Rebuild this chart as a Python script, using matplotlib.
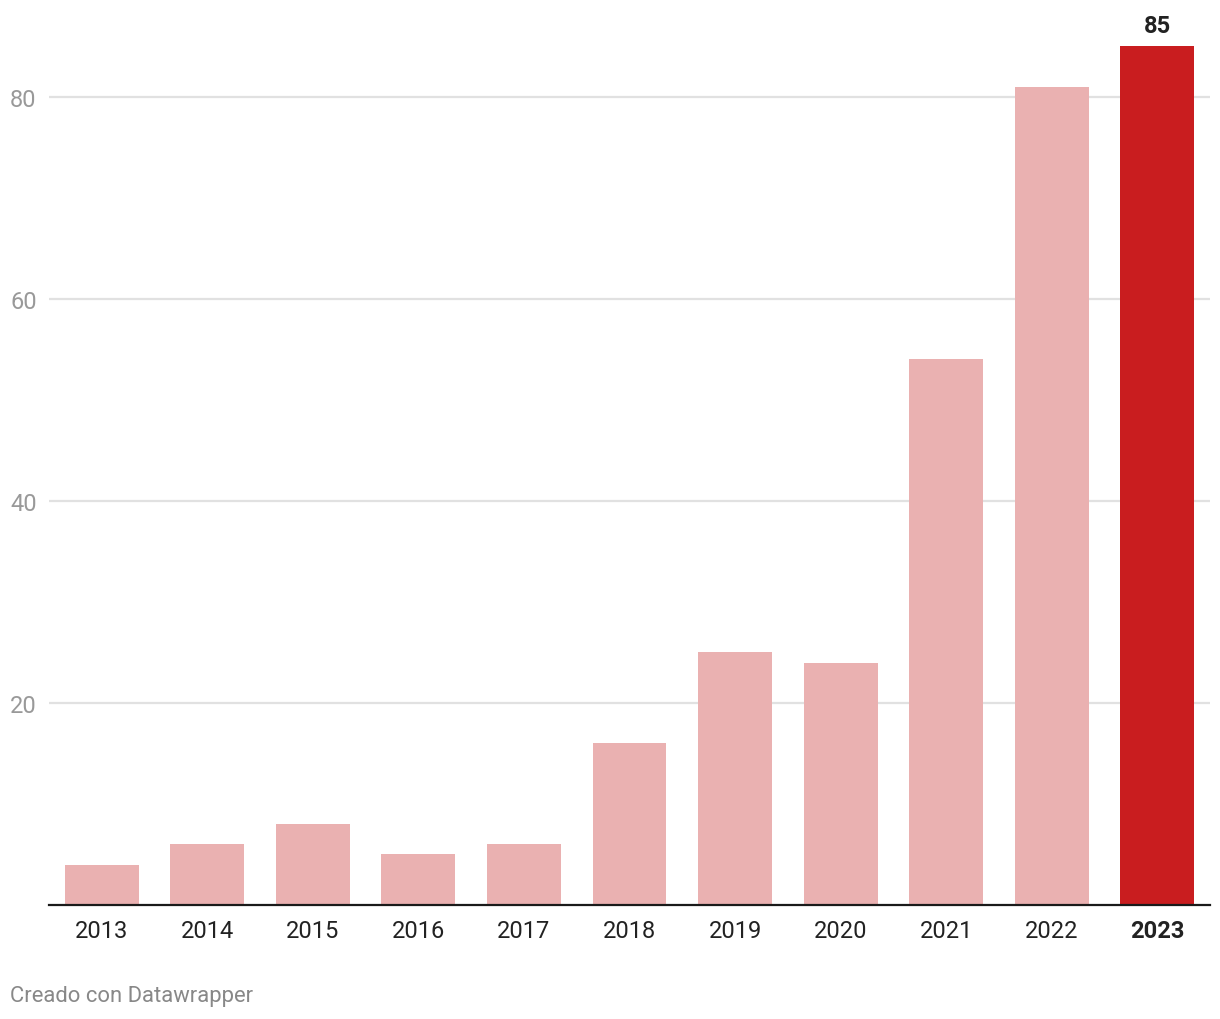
import matplotlib.pyplot as plt

years = ["2013", "2014", "2015", "2016", "2017", "2018", "2019", "2020", "2021", "2022", "2023"]
values = [4, 6, 8, 5, 6, 16, 25, 24, 54, 81, 85]
y_ticks = [20, 40, 60, 80]

light = "#eab1b1"
dark = "#c91d1f"

plt.rcParams["font.family"] = ["Roboto", "DejaVu Sans"]

W, H = 1220, 1020
fig = plt.figure(figsize=(W / 100, H / 100), dpi=100)
left, right, bottom, top = 49, 1210, 906, 17
ax = fig.add_axes([left / W, 1 - bottom / H, (right - left) / W, (bottom - top) / H])

x = list(range(len(years)))
colors = [light] * (len(years) - 1) + [dark]
ax.bar(x, values, width=0.7, color=colors, zorder=2)

ax.set_xlim(-0.5, len(years) - 0.5)
ax.set_ylim(0, 88)

ax.set_yticks(y_ticks)
ax.yaxis.grid(True, color="#e1e1e1", linewidth=1.6, zorder=0)
ax.tick_params(axis="y", length=0, pad=28, labelsize=17, labelcolor="#999999")
for lab in ax.get_yticklabels():
    lab.set_horizontalalignment("left")

ax.set_xticks(x)
ax.set_xticklabels(years)
ax.tick_params(axis="x", length=0, pad=10, labelsize=17, labelcolor="#222222")
ax.get_xticklabels()[-1].set_fontweight("bold")

for side in ["top", "right", "left"]:
    ax.spines[side].set_visible(False)
ax.spines["bottom"].set_color("#1a1a1a")
ax.spines["bottom"].set_linewidth(1.6)
ax.spines["bottom"].set_zorder(3)
ax.set_axisbelow(True)

ax.annotate(str(values[-1]), xy=(x[-1], values[-1]), xytext=(0, 7),
            textcoords="offset points", ha="center", va="bottom",
            fontsize=17, fontweight="bold", color="#222222")

fig.text(10 / W, 1 - 997 / H, "Creado con Datawrapper", ha="left", va="center",
         fontsize=15.8, color="#888888")

fig.savefig("out.png", dpi=100)
